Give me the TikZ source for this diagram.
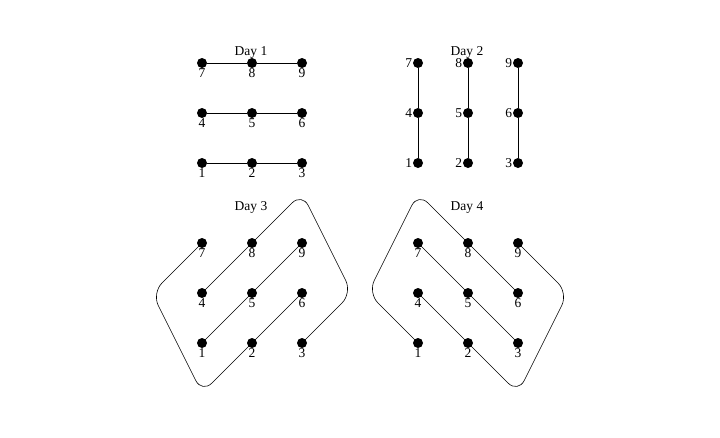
\documentclass[tikz,border=0pt]{standalone}
\usepackage{fontspec}
\setmainfont{Liberation Serif}
\begin{document}
\begin{tikzpicture}[x=1pt,y=-1pt,
  dot/.style={circle,fill=black,inner sep=0pt,minimum size=10pt},
  lab/.style={inner sep=0.5pt,font=\fontsize{13.5}{15}\selectfont},
  daytitle/.style={anchor=base,inner sep=0pt,font=\fontsize{13.5}{15}\selectfont},
  gridline/.style={line width=0.9pt},
  loopline/.style={line width=0.6pt,rounded corners=14pt}]
\useasboundingbox (0,0) rectangle (720,437);
% titles
\node[daytitle] (t1) at (251,55) {Day 1};
\node[daytitle] (t2) at (467,55) {Day 2};
\node[daytitle] (t3) at (251,210) {Day 3};
\node[daytitle] (t4) at (467,210) {Day 4};
% dots
\foreach \n/\i/\j in {1/0/2,2/1/2,3/2/2,4/0/1,5/1/1,6/2/1,7/0/0,8/1/0,9/2/0}{
  \node[dot] (a\n) at ({202+50*\i},{63+50*\j}) {};
  \node[lab,anchor=north] (la\n) at (a\n.south) {\n};
  \node[dot] (b\n) at ({418+50*\i},{63+50*\j}) {};
  \node[lab,anchor=east] (lb\n) at (b\n.west) {\n};
  \node[dot] (c\n) at ({202+50*\i},{243+50*\j}) {};
  \node[lab,anchor=north] (lc\n) at (c\n.south) {\n};
  \node[dot] (d\n) at ({418+50*\i},{243+50*\j}) {};
  \node[lab,anchor=north] (ld\n) at (d\n.south) {\n};
}
% Day 1
\draw[gridline] (a7) -- (a8) -- (a9);
\draw[gridline] (a4) -- (a5) -- (a6);
\draw[gridline] (a1) -- (a2) -- (a3);
% Day 2
\draw[gridline] (b7) -- (b4) -- (b1);
\draw[gridline] (b8) -- (b5) -- (b2);
\draw[gridline] (b9) -- (b6) -- (b3);
% Day 3
\coordinate (cL) at (152,293);
\coordinate (cB) at (202,393);
\coordinate (cT) at (302,193);
\coordinate (cR) at (352,293);
\draw[loopline] (c7.center) -- (cL) -- (cB) -- (c2.center) -- (c6.center);
\draw[loopline] (c4.center) -- (c8.center) -- (cT) -- (cR) -- (c3.center);
\draw[loopline] (c1.center) -- (c9.center);
% Day 4
\coordinate (dL) at (368,293);
\coordinate (dT) at (418,193);
\coordinate (dR) at (568,293);
\coordinate (dB) at (518,393);
\draw[loopline] (d1.center) -- (dL) -- (dT) -- (d8.center) -- (d6.center);
\draw[loopline] (d9.center) -- (dR) -- (dB) -- (d2.center) -- (d4.center);
\draw[loopline] (d7.center) -- (d3.center);
\end{tikzpicture}
\end{document}
